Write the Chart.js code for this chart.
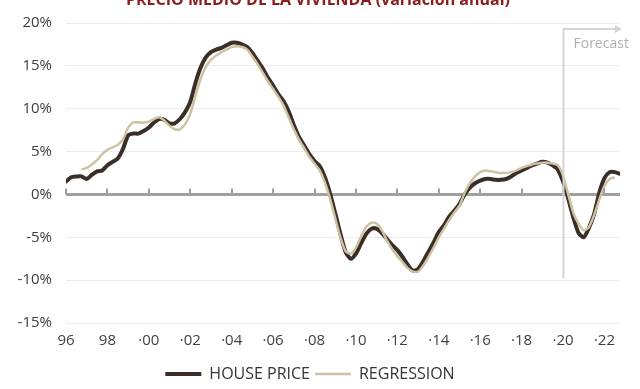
<!DOCTYPE html>
<html>
<head>
<meta charset="utf-8">
<script src="https://cdn.jsdelivr.net/npm/chart.js@4.4.0/dist/chart.umd.min.js"></script>
<style>
  html, body { margin: 0; padding: 0; background: #ffffff; }
  #wrap { width: 640px; height: 389px; position: relative; }
</style>
</head>
<body>
<div id="wrap"><canvas id="house-chart" width="640" height="389"></canvas></div>
<script>
// Quarterly data, first point = 1996 Q1
const startYear = 1996;
const housePrice = [
  1.5, 2.0, 2.1, 2.1,   // 96
  1.8, 2.3, 2.7, 2.8,   // 97
  3.4, 3.8, 4.2, 5.3,   // 98
  6.9, 7.1, 7.1, 7.4,   // 99
  7.8, 8.4, 8.8, 8.7,   // 00
  8.3, 8.3, 8.8, 9.6,   // 01
  10.8, 13.0, 14.8, 16.0, // 02
  16.6, 16.9, 17.1, 17.4, // 03
  17.7, 17.7, 17.5, 17.2, // 04
  16.5, 15.6, 14.7, 13.6, // 05
  12.7, 11.7, 10.9, 9.7,  // 06
  8.1, 6.7, 5.7, 4.7,     // 07
  3.9, 3.3, 2.0, 0.1,     // 08
  -2.2, -4.6, -6.7, -7.5, // 09
  -6.9, -5.7, -4.6, -4.0, // 10
  -4.0, -4.5, -5.2, -5.9, // 11
  -6.5, -7.3, -8.2, -8.9, // 12
  -8.7, -7.8, -6.7, -5.6, // 13
  -4.4, -3.6, -2.6, -1.9, // 14
  -1.1, 0.0, 0.8, 1.3,    // 15
  1.6, 1.8, 1.8, 1.7,     // 16
  1.7, 1.8, 2.1, 2.5,     // 17
  2.8, 3.1, 3.4, 3.6,     // 18
  3.8, 3.7, 3.4, 2.9,     // 19
  1.5, -0.5, -2.7, -4.5,  // 20
  -5.0, -3.9, -2.3, 0.2,  // 21
  1.9, 2.6, 2.6, 2.4      // 22
];
const regression = [
  null, null, null, 2.9,  // 96
  3.1, 3.5, 4.0, 4.7,     // 97
  5.2, 5.5, 5.8, 6.4,     // 98
  7.8, 8.4, 8.4, 8.4,     // 99
  8.5, 8.8, 9.0, 8.6,     // 00
  8.0, 7.6, 7.6, 8.2,     // 01
  9.4, 11.5, 13.5, 14.9,  // 02
  15.7, 16.2, 16.6, 16.9, // 03
  17.2, 17.3, 17.2, 16.9, // 04
  16.1, 15.2, 14.2, 13.2, // 05
  12.3, 11.4, 10.4, 9.0,  // 06
  7.6, 6.4, 5.4, 4.4,     // 07
  3.6, 2.8, 1.4, -0.5,    // 08
  -2.8, -5.0, -6.6, -6.9, // 09
  -6.2, -4.9, -3.8, -3.3, // 10
  -3.4, -4.2, -5.4, -6.4, // 11
  -7.2, -7.9, -8.6, -9.0, // 12
  -9.0, -8.3, -7.3, -6.2, // 13
  -5.0, -4.0, -3.0, -2.1, // 14
  -1.3, 0.2, 1.3, 2.1,    // 15
  2.6, 2.8, 2.7, 2.6,     // 16
  2.5, 2.5, 2.6, 2.8,     // 17
  3.1, 3.3, 3.5, 3.6,     // 18
  3.7, 3.7, 3.6, 3.4,     // 19
  2.2, 0.0, -2.2, -3.4,   // 20
  -4.2, -3.8, -2.4, -0.6, // 21
  1.0, 1.8, 2.0, null     // 22
];
const tickYears = [1996, 1998, 2000, 2002, 2004, 2006, 2008, 2010, 2012, 2014, 2016, 2018, 2020, 2022];
const tickLabels = ['96', '98', '·00', '·02', '·04', '·06', '·08', '·10', '·12', '·14', '·16', '·18', '·20', '·22'];
const forecastYear = 2020;
const chartTitle = 'PRECIO MEDIO DE LA VIVIENDA (variación anual)';

// turn quarter index into x value
function toPoints(arr) {
    return arr.map((v, i) => ({ x: startYear + i * 0.25, y: v }));
}

// Title (cut off at the top), zero line ticks and forecast marker
const extrasPlugin = {
    id: 'extras',
    afterDraw(chart) {
        const c = chart.ctx;
        const xs = chart.scales.x;
        const ys = chart.scales.y;
        c.save();
        // title
        c.fillStyle = '#8c1c1c';
        c.font = 'bold 16px "Open Sans", sans-serif';
        c.textAlign = 'center';
        c.textBaseline = 'alphabetic';
        c.fillText(chartTitle, 318, 5);

        // small ticks on the zero line
        const y0 = ys.getPixelForValue(0);
        c.strokeStyle = '#a0a0a0';
        c.lineWidth = 2;
        tickYears.forEach(yr => {
            const px = Math.round(xs.getPixelForValue(yr));
            c.beginPath();
            c.moveTo(px, y0);
            c.lineTo(px, y0 - 6);
            c.stroke();
        });

        // forecast marker
        const fx = Math.round(xs.getPixelForValue(forecastYear)) + 0.5;
        const top = ys.getPixelForValue(19.3);
        const bottom = ys.getPixelForValue(-9.8);
        const right = chart.chartArea.right;
        c.strokeStyle = '#d4d4d4';
        c.lineWidth = 2;
        c.beginPath();
        c.moveTo(fx, bottom);
        c.lineTo(fx, top);
        c.lineTo(right - 2, top);
        c.stroke();
        c.fillStyle = '#d4d4d4';
        c.beginPath();
        c.moveTo(right + 2, top);
        c.lineTo(right - 5, top - 4);
        c.lineTo(right - 5, top + 4);
        c.closePath();
        c.fill();
        c.fillStyle = '#b0b0b0';
        c.font = '14px "Open Sans", sans-serif';
        c.textAlign = 'left';
        c.textBaseline = 'middle';
        c.fillText('Forecast', fx + 10, ys.getPixelForValue(17.6));
        c.restore();
    }
};

const ctx = document.getElementById('house-chart').getContext('2d');
const chart = new Chart(ctx, {
    type: 'line',
    data: {
        datasets: [
            {
                label: 'HOUSE PRICE',
                data: toPoints(housePrice),
                borderColor: '#3b2e27',
                backgroundColor: '#3b2e27',
                borderWidth: 4,
                pointRadius: 0,
                tension: 0.25,
                borderCapStyle: 'round',
                order: 2
            },
            {
                label: 'REGRESSION',
                data: toPoints(regression),
                borderColor: '#cdc2a3',
                backgroundColor: '#cdc2a3',
                borderWidth: 2.5,
                pointRadius: 0,
                tension: 0.25,
                order: 1
            }
        ]
    },
    options: {
        responsive: false,
        animation: false,
        layout: { padding: { top: 23, right: 20, bottom: -3, left: 0 } },
        scales: {
            x: {
                type: 'linear',
                min: 1996,
                max: 2022.75,
                grid: { display: false, drawTicks: false },
                border: { display: false },
                afterBuildTicks: scale => {
                    scale.ticks = tickYears.map(v => ({ value: v }));
                },
                afterFit: scale => { scale.height = 38; },
                ticks: {
                    autoSkip: false,
                    maxRotation: 0,
                    padding: 9,
                    color: '#404040',
                    font: { family: 'Open Sans', size: 15 },
                    callback: (value) => tickLabels[tickYears.indexOf(value)]
                }
            },
            y: {
                min: -15,
                max: 20,
                afterFit: scale => { scale.width = 66; },
                border: { display: false },
                grid: {
                    drawTicks: false,
                    color: c => c.tick.value === 0 ? '#a0a0a0' : '#ededed',
                    lineWidth: c => c.tick.value === 0 ? 3 : 1
                },
                ticks: {
                    stepSize: 5,
                    padding: 14,
                    color: '#404040',
                    font: { family: 'Open Sans', size: 15 },
                    callback: v => v + '%'
                }
            }
        },
        plugins: {
            legend: {
                position: 'bottom',
                labels: {
                    usePointStyle: true,
                    pointStyle: 'line',
                    pointStyleWidth: 36,
                    color: '#333333',
                    font: { family: 'Open Sans', size: 16 },
                    padding: 5,
                    sort: (a, b) => a.datasetIndex - b.datasetIndex
                }
            },
            tooltip: { enabled: false }
        }
    },
    plugins: [extrasPlugin]
});
</script>
</body>
</html>
